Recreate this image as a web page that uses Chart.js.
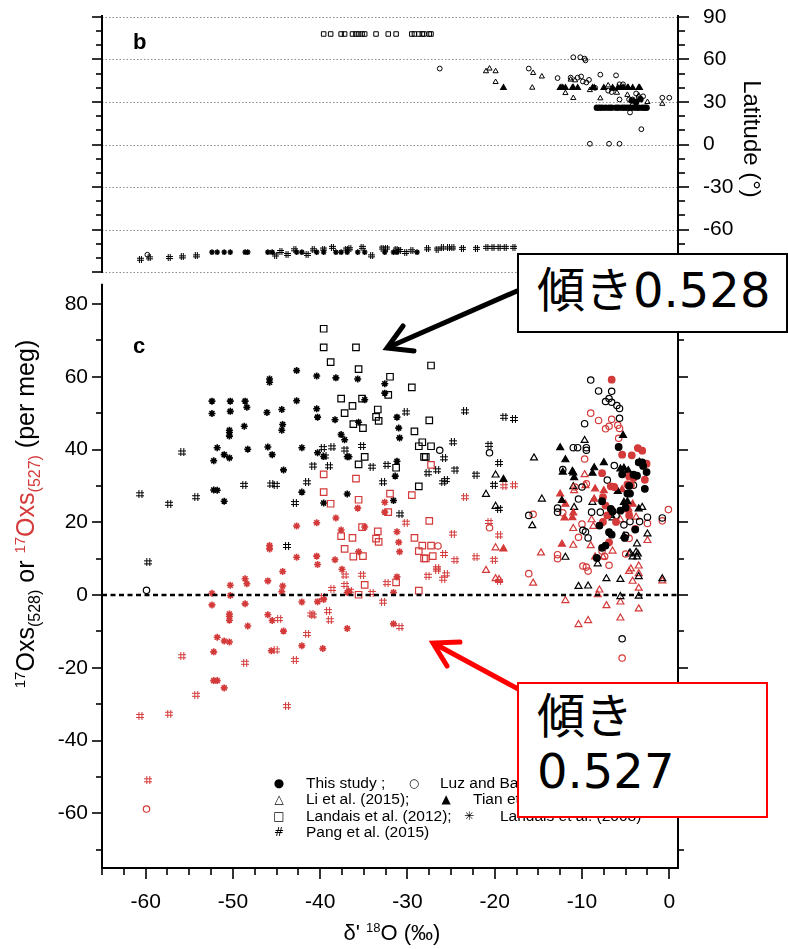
<!DOCTYPE html>
<html>
<head>
<meta charset="utf-8">
<script src="https://cdn.jsdelivr.net/npm/chart.js@4.4.1/dist/chart.umd.min.js"></script>
<style>
  html, body { margin: 0; padding: 0; background: #fff; }
  #page { position: relative; width: 788px; height: 949px; overflow: hidden; font-family: 'Liberation Sans', Arial, sans-serif; color: #000; }
  canvas { position: absolute; left: 0; }
  .txt { position: absolute; white-space: nowrap; }
  .sup { position: relative; font-size: 15px; top: -9px; }
  .sub { position: relative; font-size: 16px; top: 6px; }
  .red { color: rgb(212, 58, 58); }
  .leg { position: absolute; font-size: 15.5px; line-height: 16.5px; white-space: nowrap; }
  .mk { position: absolute; font-family: 'DejaVu Sans', sans-serif; font-size: 12px; line-height: 16.5px; width: 16px; text-align: center; }
  .box { position: absolute; box-sizing: border-box; background: #fff; font-family: 'DejaVu Sans', 'Noto Sans CJK JP', sans-serif; font-size: 48px; color: #000; padding-left: 18px; }
</style>
</head>
<body>
<div id="page">
  <canvas id="latChart" width="788" height="290" style="top:0"></canvas>
  <canvas id="oxsChart" width="788" height="669" style="top:280px"></canvas>

  <div class="txt" style="left:133px; top:31px; font-size:22px; line-height:22px; font-weight:bold">b</div>
  <div class="txt" style="left:133px; top:335px; font-size:22px; line-height:22px; font-weight:bold">c</div>

  <div class="txt" style="left:-175px; top:500px; width:400px; height:28px; line-height:28px; font-size:25px; text-align:center; transform:rotate(-90deg)"><span class="sup">17</span>Oxs<span class="sub">(528)</span> or <span class="red"><span class="sup">17</span>Oxs<span class="sub">(527)</span></span> (per meg)</div>
  <div class="txt" style="left:652px; top:125px; width:200px; height:28px; line-height:28px; font-size:24px; text-align:center; transform:rotate(90deg)">Latitude (°)</div>
  <div class="txt" style="left:242px; top:919px; width:300px; line-height:28px; font-size:22px; text-align:center">δ' <span class="sup" style="font-size:13px; top:-8px">18</span>O (‰)</div>

  <!-- legend -->
  <span class="mk" style="left:271px; top:775px">●</span><span class="leg" style="left:306px; top:775px">This study ;</span>
  <span class="mk" style="left:406px; top:775px">○</span><span class="leg" style="left:440px; top:775px">Luz and Barkan (2010)</span>
  <span class="mk" style="left:271px; top:791px">△</span><span class="leg" style="left:306px; top:791px">Li et al. (2015);</span>
  <span class="mk" style="left:438px; top:791px">▲</span><span class="leg" style="left:473px; top:791px">Tian et al. (2016)</span>
  <span class="mk" style="left:271px; top:808px">□</span><span class="leg" style="left:306px; top:808px">Landais et al. (2012);</span>
  <span class="mk" style="left:461px; top:808px">✳</span><span class="leg" style="left:500px; top:808px">Landais et al. (2008)</span>
  <span class="mk" style="left:271px; top:824px; font-size:12px">#</span><span class="leg" style="left:306px; top:824px">Pang et al. (2015)</span>

  <svg width="788" height="949" style="position:absolute; left:0; top:0">
    <g stroke="#000" stroke-width="5" stroke-linecap="round" fill="none">
      <line x1="517" y1="291" x2="389" y2="347"/>
      <polyline points="403,326 387,348 414,351"/>
    </g>
    <g stroke="#f00" stroke-width="5" stroke-linecap="round" fill="none">
      <line x1="520" y1="690" x2="435" y2="644"/>
      <polyline points="460,642 433,643 447,666"/>
    </g>
  </svg>

  <div class="box" style="left:517px; top:253px; width:271px; height:80px; border:2px solid #000; line-height:70px">傾き0.528</div>
  <div class="box" style="left:517px; top:682px; width:251px; height:136px; border:2px solid #f00; line-height:55px; padding-top:5px">傾き<br>0.527</div>
</div>

<script>
// ---- data: [δ'18O, value] ----
// panel c, black = 17Oxs(528), red = 17Oxs(527)
const thisStudy528 = [[-5.8,40.7],[-5.4,33.2],[-4.1,33.1],[-3.7,32.8],[-3.5,36.5],[-3.1,36.5],[-2.6,33.8],[-2.8,29.2],[-4.8,27.9],[-4.5,27.9],[-7.7,25.8],[-6.7,23.7],[-6.5,23.0],[-5.6,23.2],[-8.0,19.1],[-6.9,17.3],[-6.6,16.6],[-5.1,15.7],[-3.9,18.0],[-7.3,13.6],[-7.7,13.0],[-8.3,10.2],[-4.6,30.0],[-3.0,35.5],[-5.0,24.0]];
const thisStudy527 = [[-6.6,59.2],[-5.4,38.6],[-4.3,38.4],[-3.6,40.4],[-3.1,39.7],[-2.6,36.1],[-7.7,33.5],[-6.7,29.9],[-6.3,29.7],[-4.8,30.4],[-4.4,30.2],[-4.6,32.6],[-4.1,32.2],[-2.8,31.7],[-7.6,26.9],[-7.3,24.6],[-7.6,20.1],[-7.1,21.9],[-6.6,23.3],[-6.1,20.1],[-4.6,21.9],[-3.9,18.2],[-6.9,14.5]];
const luz528 = [[-59.9,1.3],[-26.3,39.8],[-20.6,39.1],[-16.1,21.9],[-9.0,59.1],[-8.1,56.1],[-7.3,53.2],[-6.9,54.0],[-6.6,56.0],[-6.6,53.0],[-6.0,52.1],[-5.7,51.3],[-5.7,48.6],[-9.7,47.1],[-11.0,40.5],[-10.5,40.5],[-9.5,40.5],[-9.5,39.8],[-6.3,35.6],[-12.2,34.5],[-10.0,29.7],[-10.4,26.4],[-12.8,23.9],[-12.8,22.8],[-8.9,22.8],[-7.9,22.8],[-9.9,17.8],[-9.6,17.4],[-9.3,15.7],[-6.1,21.9],[-5.2,19.3],[-4.5,20.2],[-3.4,20.2],[-2.5,21.4],[-5.0,16.4],[-4.6,30.1],[-4.1,30.2],[-0.8,21.2],[-5.4,-12.0],[-7.1,31.6]];
const luz527 = [[-59.9,-58.8],[-26.5,13.5],[-9.0,50.0],[-8.1,48.0],[-7.3,45.7],[-6.9,46.4],[-6.6,48.3],[-5.9,46.7],[-5.7,45.8],[-5.8,43.1],[-9.7,37.4],[-9.5,30.6],[-10.8,29.7],[-12.2,22.6],[-10.0,19.5],[-10.4,15.9],[-15.6,22.2],[-20.6,18.5],[-12.8,11.1],[-12.8,10.0],[-9.9,8.0],[-9.5,7.7],[-9.3,6.6],[-6.9,8.2],[-16.1,5.9],[-0.8,20.4],[-0.1,23.5],[-2.5,19.7],[-4.6,15.6],[-7.7,12.1],[-7.4,10.6],[-5.4,-17.3],[-5.0,11.3]];
const li528 = [[-9.7,42.5],[-15.5,37.7],[-19.9,33.0],[-21.0,27.7],[-14.6,26.4],[-19.9,24.4],[-15.7,19.1],[-11.0,29.8],[-10.9,24.1],[-8.8,25.5],[-6.7,21.9],[-6.5,21.2],[-3.1,24.1],[-2.5,16.8],[-4.5,11.6],[-3.8,11.8],[-3.6,11.3],[-3.7,10.5],[-4.6,11.3],[-4.2,10.5],[-11.9,10.4],[-8.2,8.6],[-10.4,2.4],[-9.3,2.5],[-7.2,4.5],[-5.6,4.3],[-3.5,5.1],[-3.5,-0.3],[-0.8,4.5],[-5.6,-0.4],[-5.2,16.2],[-3.7,14.1]];
const li527 = [[-9.7,33.1],[-10.9,28.7],[-11.0,18.3],[-11.0,13.7],[-15.6,3.3],[-14.7,11.6],[-21.0,6.8],[-19.9,4.5],[-19.5,4.3],[-19.9,13.0],[-11.9,-1.5],[-10.4,-8.1],[-9.3,-7.0],[-7.2,-2.9],[-8.0,1.4],[-8.2,0.1],[-5.6,-6.3],[-5.6,-1.9],[-3.5,-3.8],[-3.5,1.9],[-4.6,6.5],[-4.2,3.8],[-3.5,5.9],[-3.5,8.0],[-4.4,7.2],[-0.8,3.9],[-2.5,15.0],[-7.6,10.5],[-6.5,12.1],[-8.7,18.9],[-8.9,20.7],[-5.6,20.7],[-4.7,23.9],[-3.8,21.4],[-9.6,30.1],[-9.0,13.6]];
const tian528 = [[-12.5,40.5],[-11.9,37.2],[-11.1,34.0],[-11.0,33.6],[-12.2,33.8],[-8.6,35.0],[-7.5,36.4],[-8.8,33.5],[-5.3,43.9],[-5.6,34.7],[-5.2,34.9],[-4.7,34.2],[-12.3,26.0],[-5.9,28.5],[-5.2,25.5],[-4.8,25.7],[-3.5,23.7],[-19.0,31.8],[-3.4,36.5],[-10.9,32.3]];
const tian527 = [[-12.5,27.8],[-11.9,25.0],[-12.0,21.2],[-11.1,21.3],[-11.0,22.6],[-8.6,26.4],[-8.5,29.2],[-7.5,28.7],[-4.7,23.4],[-12.3,14.0],[-19.0,12.7],[-8.5,10.5],[-5.4,29.0],[-4.2,25.0]];
const landais12_528 = [[-39.6,73.2],[-39.6,68.1],[-35.9,68.1],[-38.8,64.0],[-35.6,62.1],[-27.3,63.1],[-32.0,60.0],[-29.5,57.1],[-37.6,54.0],[-35.2,54.0],[-32.2,55.0],[-36.3,52.0],[-33.4,51.0],[-37.2,50.0],[-33.6,49.0],[-33.3,47.9],[-36.2,47.0],[-35.1,45.9],[-27.5,48.0],[-29.2,45.0],[-28.3,42.0],[-27.3,40.9],[-28.7,40.9],[-28.1,38.0],[-27.9,38.0],[-34.9,38.0],[-35.6,35.9],[-31.3,35.0],[-28.7,29.9]];
const landais12_527 = [[-39.6,33.2],[-35.9,32.0],[-39.6,28.3],[-38.8,25.1],[-35.6,26.2],[-27.3,35.8],[-32.0,27.9],[-29.5,27.5],[-32.2,22.8],[-35.2,18.7],[-37.6,16.2],[-36.3,15.7],[-33.4,17.5],[-33.6,15.5],[-33.3,14.6],[-37.2,12.7],[-36.2,10.6],[-35.1,10.7],[-29.2,15.7],[-27.5,20.4],[-28.3,13.6],[-27.3,13.6],[-28.7,12.1],[-28.1,10.1],[-27.9,10.1],[-27.1,10.7],[-34.9,2.8],[-35.6,0.1],[-31.3,3.5],[-28.7,1.2]];
const landais08_528 = [[-52.4,53.3],[-50.3,53.3],[-48.6,53.3],[-48.4,51.6],[-52.4,49.9],[-50.3,50.5],[-45.8,59.4],[-45.8,58.5],[-42.7,61.7],[-40.4,60.2],[-38.2,59.7],[-35.7,59.4],[-32.6,58.1],[-32.6,55.5],[-34.9,53.7],[-42.7,53.4],[-46.1,50.2],[-44.4,51.0],[-40.4,51.2],[-40.3,48.9],[-38.3,48.2],[-35.6,47.5],[-48.7,46.4],[-50.4,45.3],[-50.4,44.7],[-50.4,43.7],[-44.3,46.9],[-44.4,45.3],[-31.2,48.9],[-31.0,45.9],[-30.9,43.2],[-37.6,44.1],[-37.2,42.7],[-51.8,40.5],[-48.3,40.1],[-46.0,40.7],[-42.1,40.5],[-51.0,38.6],[-50.4,37.7],[-52.2,36.9],[-45.5,38.6],[-40.3,39.1],[-39.6,38.1],[-36.9,38.0],[-36.7,38.0],[-44.2,34.4],[-52.2,28.9],[-51.8,28.8],[-51.0,25.8],[-42.1,28.3],[-39.6,25.3],[-36.9,27.8],[-31.6,26.0],[-31.4,32.7],[-31.2,36.8]];
const landais08_527 = [[-52.4,0.5],[-52.4,-2.7],[-50.3,2.7],[-50.3,-0.1],[-48.6,4.5],[-48.4,3.1],[-48.6,-2.4],[-46.0,3.9],[-44.3,6.5],[-44.3,2.5],[-44.4,0.9],[-45.8,13.6],[-45.8,12.7],[-42.7,10.4],[-40.4,10.7],[-40.3,8.4],[-42.7,19.0],[-40.4,19.9],[-38.2,21.2],[-38.3,9.7],[-37.6,17.9],[-37.5,7.1],[-35.7,23.9],[-32.6,25.5],[-32.6,22.8],[-34.9,18.7],[-35.6,11.9],[-31.2,17.4],[-31.0,14.5],[-30.9,11.9],[-31.2,5.0],[-31.6,0.7],[-36.9,0.7],[-36.7,1.0],[-42.1,-1.9],[-40.3,-1.8],[-39.6,-1.2],[-31.6,-7.9],[-50.4,-5.2],[-50.4,-5.9],[-50.4,-6.9],[-51.8,-11.6],[-51.0,-12.6],[-50.4,-12.9],[-52.2,-15.6],[-52.2,-23.5],[-51.8,-23.5],[-51.0,-25.5],[-48.3,-8.5],[-46.0,-5.4],[-45.5,-7.0],[-44.2,-9.9],[-45.6,-15.3],[-42.1,-13.9],[-39.7,-14.7],[-36.9,-9.2]];
const pang528 = [[-55.8,39.2],[-60.6,27.7],[-57.3,25.1],[-54.2,26.9],[-59.7,9.0],[-48.7,30.3],[-45.6,30.4],[-45.1,30.3],[-43.8,13.5],[-42.9,25.3],[-41.5,31.0],[-40.8,35.6],[-39.0,35.4],[-39.7,40.4],[-38.6,40.6],[-39.5,38.1],[-37.1,40.0],[-35.2,41.0],[-34.1,35.3],[-32.4,35.8],[-32.8,31.0],[-30.2,50.2],[-30.8,22.2],[-27.7,33.5],[-26.6,34.3],[-23.4,50.5],[-18.9,49.0],[-17.8,48.4],[-24.8,42.0],[-25.8,37.6],[-24.5,34.5],[-25.6,31.6],[-25.9,31.0],[-22.2,33.1],[-20.6,41.3],[-19.5,36.3],[-20.1,30.3],[-19.5,23.7]];
const pang527 = [[-55.8,-16.8],[-54.2,-27.4],[-60.6,-33.2],[-57.3,-32.6],[-59.7,-50.9],[-48.6,-18.6],[-45.1,-15.2],[-44.7,-6.6],[-43.8,-30.5],[-42.9,-17.8],[-41.5,-10.7],[-40.8,-5.6],[-39.1,-4.4],[-38.9,-6.9],[-30.8,-8.8],[-39.7,-0.5],[-41.0,-5.3],[-38.6,1.7],[-37.1,2.8],[-35.2,5.6],[-37.2,5.4],[-36.6,1.2],[-34.1,0.6],[-32.4,3.3],[-32.8,-1.8],[-30.2,19.9],[-27.7,5.3],[-26.6,7.0],[-23.4,26.9],[-18.9,29.9],[-17.8,30.2],[-24.8,16.9],[-25.8,11.3],[-26.6,7.4],[-24.5,9.6],[-25.6,5.7],[-25.9,4.5],[-22.2,10.4],[-20.6,20.1],[-19.5,16.4],[-20.1,9.7],[-19.5,3.9]];
const zeroLine = [[-65,0],[1,0]];

// panel b: [δ'18O, latitude]
const latThis = [[-8.3,26],[-8.0,26],[-7.7,26],[-7.3,26],[-6.9,26],[-6.6,26],[-6.1,26],[-5.8,26],[-5.4,26],[-5.1,26],[-4.8,26],[-4.5,26],[-4.1,26],[-3.7,26],[-3.5,26],[-3.1,26],[-2.8,26],[-2.6,26],[-4.3,31],[-3.8,30],[-3.3,32]];
const latLuz = [[-59.8,-77.8],[-26.3,53.6],[-16.1,53.6],[-11.0,61.6],[-10.2,61.6],[-9.7,60.6],[-9.6,59.4],[-12.8,46.9],[-11.3,47.2],[-10.5,47.2],[-10.1,48],[-9.9,44.5],[-9.5,43.8],[-9.2,45.6],[-7.9,49.3],[-6.1,48.8],[-5.7,42.5],[-5.3,42.5],[-5.7,31.8],[-4.6,31.8],[-4.2,31.8],[-3.5,33.4],[-4.5,22.6],[-3.2,10.8],[-9.1,0.5],[-6.9,0.5],[-5.7,0.5],[-0.8,33],[0.0,33],[-8.5,40],[-7.0,38],[-6.6,37],[-3.8,36],[-3.0,34]];
const latLi = [[-21.0,51.7],[-20.6,53.6],[-19.9,51.7],[-19.9,44.1],[-15.7,40.1],[-15.6,50.5],[-14.6,48],[-11.9,36.3],[-11.0,32.8],[-11.3,45.8],[-10.8,45.3],[-9.1,38.4],[-7.9,32.6],[-7.0,41.7],[-6.4,39.3],[-4.2,28.7],[-3.5,34.6],[-2.5,30],[-0.8,28.7],[-6.0,36.5],[-4.8,35]];
const latTian = [[-19.0,40],[-12.5,40],[-12.3,40],[-12.2,40],[-11.9,40],[-11.1,40],[-11.0,40],[-10.5,40],[-8.8,40],[-8.6,40],[-7.5,40],[-6.5,40],[-5.9,40],[-5.6,40],[-5.3,40],[-5.2,40],[-4.8,40],[-4.7,40],[-4.2,40],[-3.5,40],[-3.4,40]];
const latLandais12 = [[-39.6,78],[-38.8,78],[-37.6,78],[-37.2,78],[-36.3,78],[-35.9,78],[-35.6,78],[-35.2,78],[-34.9,78],[-33.6,78],[-32.2,78],[-31.3,78],[-29.5,78],[-29.2,78],[-28.7,78],[-28.3,78],[-28.1,78],[-27.5,78],[-27.3,78]];
const latLandais08 = [[-52.4,-76],[-51.8,-76],[-51.0,-76],[-50.3,-76],[-48.6,-76],[-48.3,-76],[-46.0,-76],[-45.5,-76],[-42.7,-76],[-42.1,-76],[-40.4,-76],[-39.6,-76],[-38.2,-76],[-37.6,-76],[-36.9,-76],[-35.7,-76],[-34.9,-76],[-32.6,-76],[-31.6,-76],[-31.2,-76],[-28.9,-76]];
const latPang = [[-60.6,-81],[-59.6,-80],[-57.3,-79.8],[-55.8,-79.3],[-54.2,-78.6],[-45.1,-78],[-44.5,-75.5],[-43.8,-77.6],[-42.9,-74.3],[-41.5,-77.6],[-40.8,-74.3],[-39.6,-73.8],[-38.6,-72.6],[-37.0,-73.8],[-36.6,-73.6],[-35.2,-72.6],[-34.1,-78.6],[-32.9,-73.1],[-32.4,-73.1],[-31.3,-73.8],[-30.9,-74.8],[-30.2,-76.2],[-29.5,-75],[-27.7,-73.6],[-26.6,-73.8],[-26.0,-73],[-25.3,-73],[-24.8,-73],[-23.7,-73.3],[-22.1,-73.3],[-20.9,-72.6],[-20.2,-72.6],[-19.5,-72.6],[-18.8,-72.6],[-17.8,-72.6]];

// tick labels
const latTicks = [-90, -60, -30, 0, 30, 60, 90];
const oxsTicks = [-60, -40, -20, 0, 20, 40, 60, 80];
const d18Ticks = [-60, -50, -40, -30, -20, -10, 0];

const BLACK = '#000';
const RED = 'rgb(212,58,58)';
const FONT = "'Liberation Sans', Arial, sans-serif";

// '#' marker (no built-in point style for it)
function hashMark(color, size) {
    const c = document.createElement('canvas');
    c.width = c.height = size;
    const g = c.getContext('2d');
    g.strokeStyle = color;
    g.lineWidth = 1;
    const a = Math.round(size * 0.3) + 0.5, b = Math.round(size * 0.7) - 0.5;
    g.beginPath();
    g.moveTo(a, 0); g.lineTo(a, size); g.moveTo(b, 0); g.lineTo(b, size);
    g.moveTo(0, a); g.lineTo(size, a); g.moveTo(0, b); g.lineTo(size, b);
    g.stroke();
    return c;
}

function series(list, style, color, filled, r, bw) {
    return {
        data: list.map(([x, y]) => ({ x, y })),
        pointStyle: style,
        pointRadius: r,
        borderColor: color,
        backgroundColor: filled ? color : 'rgba(0,0,0,0)',
        borderWidth: bw || 1.2,
        showLine: false
    };
}

function fixedTicks(values) {
    return s => { s.ticks = values.map(v => ({ value: v })); };
}

// keep the chart area exactly where the padding puts it
function fitWidth(w) {
    return s => { s.width = w; s.paddingTop = 0; s.paddingBottom = 0; };
}
function fitHeight(h) {
    return s => { s.height = h; s.paddingLeft = 0; s.paddingRight = 0; };
}

// axis lines, outward ticks and dotted grid drawn from the scales
const framePlugin = {
    id: 'frame',
    beforeDatasetsDraw(chart, args, opts) {
        const { ctx, chartArea: a } = chart;
        (opts.grid || []).forEach(g => {
            const s = chart.scales[g.scale];
            ctx.save();
            ctx.strokeStyle = '#8a8a8a';
            ctx.lineWidth = 1;
            ctx.setLineDash([1.5, 2]);
            for (let v = Math.ceil(s.min / g.step) * g.step; v <= s.max + 1e-9; v += g.step) {
                const p = Math.round(s.getPixelForValue(v)) + 0.5;
                ctx.beginPath(); ctx.moveTo(a.left, p); ctx.lineTo(a.right, p); ctx.stroke();
            }
            ctx.restore();
        });
    },
    afterDatasetsDraw(chart, args, opts) {
        const { ctx, chartArea: a } = chart;
        ctx.save();
        ctx.strokeStyle = BLACK;
        (opts.axes || []).forEach(ax => {
            const s = chart.scales[ax.scale];
            ctx.lineWidth = 2;
            ctx.beginPath();
            if (ax.side === 'left') { ctx.moveTo(a.left, a.top - 2); ctx.lineTo(a.left, a.bottom + 1); }
            if (ax.side === 'right') { ctx.moveTo(a.right, a.top - 2); ctx.lineTo(a.right, a.bottom + 1); }
            if (ax.side === 'bottom') { ctx.moveTo(a.left - 1, a.bottom); ctx.lineTo(a.right + 1, a.bottom); }
            ctx.stroke();
            ctx.lineWidth = 1.6;
            for (let v = Math.ceil(s.min / ax.minor - 1e-9) * ax.minor; v <= s.max + 1e-9; v += ax.minor) {
                const major = Math.abs(v / ax.major - Math.round(v / ax.major)) < 1e-6;
                const len = major ? ax.majorLen : ax.minorLen;
                const p = Math.round(s.getPixelForValue(v));
                ctx.beginPath();
                if (ax.side === 'left') { ctx.moveTo(a.left, p); ctx.lineTo(a.left - len, p); }
                if (ax.side === 'right') { ctx.moveTo(a.right, p); ctx.lineTo(a.right + len, p); }
                if (ax.side === 'bottom') { ctx.moveTo(p, a.bottom); ctx.lineTo(p, a.bottom + len); }
                ctx.stroke();
            }
        });
        ctx.restore();
    }
};

const common = {
    responsive: false,
    animation: false,
    events: [],
    plugins: { legend: { display: false }, tooltip: { enabled: false } }
};

// ---- panel b: latitude ----
new Chart(document.getElementById('latChart'), {
    type: 'scatter',
    plugins: [framePlugin],
    data: {
        datasets: [
            series(latThis, 'circle', BLACK, true, 2.6),
            series(latTian, 'triangle', BLACK, true, 3.2),
            series(latLuz, 'circle', BLACK, false, 2.4, 1),
            series(latLi, 'triangle', BLACK, false, 3, 1),
            series(latLandais12, 'rect', BLACK, false, 3.2, 1),
            series(latLandais08, 'star', BLACK, false, 2.8, 1.4),
            series(latPang, hashMark(BLACK, 7), BLACK, false, 3)
        ]
    },
    options: {
        ...common,
        layout: { padding: { left: 102, right: 0, top: 17, bottom: 18 } },
        scales: {
            x: { type: 'linear', min: -65, max: 1, display: false },
            y: {
                position: 'right', min: -90, max: 90,
                grid: { display: false, drawTicks: false },
                border: { display: false },
                ticks: { padding: 25, color: BLACK, font: { family: FONT, size: 21 } },
                afterBuildTicks: fixedTicks(latTicks),
                afterFit: fitWidth(110)
            }
        },
        plugins: {
            ...common.plugins,
            frame: {
                grid: [{ scale: 'y', step: 30 }],
                axes: [
                    { side: 'left', scale: 'y', minor: 10, major: 30, minorLen: 6, majorLen: 10 },
                    { side: 'right', scale: 'y', minor: 10, major: 30, minorLen: 7, majorLen: 11 }
                ]
            }
        }
    }
});

// ---- panel c: 17O excess ----
new Chart(document.getElementById('oxsChart'), {
    type: 'scatter',
    plugins: [framePlugin],
    data: {
        datasets: [
            { data: zeroLine.map(([x, y]) => ({ x, y })), showLine: true, pointRadius: 0, borderColor: BLACK, borderWidth: 2.5, borderDash: [5, 3.5] },
            series(thisStudy528, 'circle', BLACK, true, 3.3),
            series(thisStudy527, 'circle', RED, true, 3.3),
            series(tian528, 'triangle', BLACK, true, 4),
            series(tian527, 'triangle', RED, true, 4),
            series(luz528, 'circle', BLACK, false, 3.2),
            series(luz527, 'circle', RED, false, 3.2),
            series(li528, 'triangle', BLACK, false, 4),
            series(li527, 'triangle', RED, false, 4),
            series(landais12_528, 'rect', BLACK, false, 4.6),
            series(landais12_527, 'rect', RED, false, 4.6),
            series(landais08_528, 'star', BLACK, false, 3.5, 1.6),
            series(landais08_527, 'star', RED, false, 3.5, 1.6),
            series(pang528, hashMark(BLACK, 8), BLACK, false, 4),
            series(pang527, hashMark(RED, 8), RED, false, 4)
        ]
    },
    options: {
        ...common,
        layout: { padding: { left: 0, right: 110, top: 3, bottom: 0 } },
        scales: {
            x: {
                type: 'linear', position: 'bottom', min: -65, max: 1,
                grid: { display: false, drawTicks: false },
                border: { display: false },
                ticks: { padding: 22, color: BLACK, font: { family: FONT, size: 21 } },
                afterBuildTicks: fixedTicks(d18Ticks),
                afterFit: fitHeight(81)
            },
            y: {
                position: 'left', min: -75, max: 85,
                grid: { display: false, drawTicks: false },
                border: { display: false },
                ticks: { padding: 14, color: BLACK, font: { family: FONT, size: 21 } },
                afterBuildTicks: fixedTicks(oxsTicks),
                afterFit: fitWidth(102)
            }
        },
        plugins: {
            ...common.plugins,
            frame: {
                axes: [
                    { side: 'left', scale: 'y', minor: 10, major: 20, minorLen: 6, majorLen: 10 },
                    { side: 'right', scale: 'y', minor: 10, major: 20, minorLen: 6, majorLen: 10 },
                    { side: 'bottom', scale: 'x', minor: 2.5, major: 10, minorLen: 7, majorLen: 11 }
                ]
            }
        }
    }
});
</script>
</body>
</html>
